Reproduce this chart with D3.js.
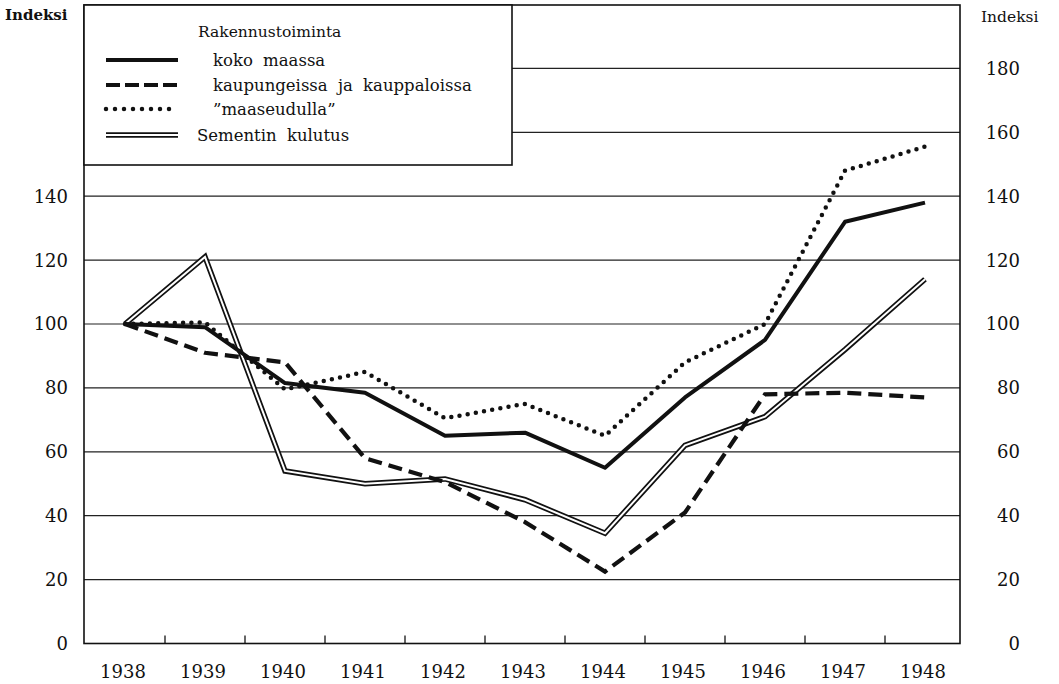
<!DOCTYPE html>
<html>
<head>
<meta charset="utf-8">
<script src="https://cdn.jsdelivr.net/npm/d3@7"></script>
<style>
  body { margin: 0; background: #fff; }
  text { font-family: "DejaVu Serif", serif; fill: #111; }
</style>
</head>
<body>
<svg width="1059" height="684"></svg>
<script>
var svg = d3.select("svg");

// the data
var years = [1938, 1939, 1940, 1941, 1942, 1943, 1944, 1945, 1946, 1947, 1948];
var kokoMaassa = [100, 99, 81.5, 78.5, 65, 66, 55, 77, 95, 132, 138];
var kaupungeissa = [100, 91, 88, 58, 50.5, 38, 22.5, 41, 78, 78.5, 77];
var maaseudulla = [100, 100.5, 79.5, 85, 70.5, 75, 65, 88, 100, 148, 155.5];
var sementti = [100, 121, 54, 50, 51.5, 45, 34.5, 62, 71, 92, 114];
var leftTicks = [0, 20, 40, 60, 80, 100, 120, 140];
var rightTicks = [0, 20, 40, 60, 80, 100, 120, 140, 160, 180];
var gridTicks = [20, 40, 60, 80, 100, 120, 140, 160, 180];

var legendLabels = ["koko maassa", "kaupungeissa ja kauppaloissa", "\u201dmaaseudulla\u201d", "Sementin kulutus"];

// plot frame
var plotLeft = 84, plotRight = 960, plotTop = 5, plotBottom = 643.5;

var x = d3.scaleLinear().domain([1938, 1948]).range([125, 925]);
var y = d3.scaleLinear().domain([0, 200]).range([plotBottom, plotBottom - 200 * 3.195]);

//////////// GRID & FRAME ////////////

svg.append("g").selectAll("line")
    .data(gridTicks)
    .enter().append("line")
    .attr("x1", plotLeft).attr("x2", plotRight)
    .attr("y1", function(d) { return y(d); })
    .attr("y2", function(d) { return y(d); })
    .attr("stroke", "#222")
    .attr("stroke-width", 1.2);

svg.append("rect")
    .attr("x", plotLeft).attr("y", plotTop)
    .attr("width", plotRight - plotLeft).attr("height", plotBottom - plotTop)
    .attr("fill", "none")
    .attr("stroke", "#111")
    .attr("stroke-width", 1.6);

// small ticks between the years
svg.append("g").selectAll("line")
    .data(years.slice(0, -1))
    .enter().append("line")
    .attr("x1", function(d) { return x(d + 0.5); })
    .attr("x2", function(d) { return x(d + 0.5); })
    .attr("y1", plotBottom).attr("y2", plotBottom - 8)
    .attr("stroke", "#111")
    .attr("stroke-width", 1.3);

//////////// AXIS LABELS ////////////

svg.append("g").selectAll("text")
    .data(leftTicks)
    .enter().append("text")
    .attr("x", 68)
    .attr("y", function(d) { return y(d); })
    .attr("dy", "0.36em")
    .attr("text-anchor", "end")
    .attr("font-size", 18)
    .text(function(d) { return d; });

svg.append("g").selectAll("text")
    .data(rightTicks)
    .enter().append("text")
    .attr("x", 1020)
    .attr("y", function(d) { return y(d); })
    .attr("dy", "0.36em")
    .attr("text-anchor", "end")
    .attr("font-size", 18)
    .text(function(d) { return d; });

svg.append("g").selectAll("text")
    .data(years)
    .enter().append("text")
    .attr("x", function(d) { return x(d) - 2; })
    .attr("y", 678)
    .attr("text-anchor", "middle")
    .attr("font-size", 18)
    .text(function(d) { return d; });

svg.append("text")
    .attr("x", 5).attr("y", 20)
    .attr("font-size", 15)
    .attr("font-weight", "bold")
    .text("Indeksi");

svg.append("text")
    .attr("x", 981).attr("y", 22)
    .attr("font-size", 15.5)
    .text("Indeksi");

//////////// SERIES ////////////

var line = d3.line()
    .x(function(d, i) { return x(years[i]); })
    .y(function(d) { return y(d); });

var lines = svg.append("g").attr("fill", "none");

// double line for cement
lines.append("path")
    .attr("d", line(sementti))
    .attr("stroke", "#111")
    .attr("stroke-width", 5.5)
    .attr("stroke-linejoin", "miter");
lines.append("path")
    .attr("d", line(sementti))
    .attr("stroke", "#fff")
    .attr("stroke-width", 2)
    .attr("stroke-linejoin", "miter");

lines.append("path")
    .attr("d", line(kaupungeissa))
    .attr("stroke", "#111")
    .attr("stroke-width", 4.2)
    .attr("stroke-dasharray", "14,7");

lines.append("path")
    .attr("d", line(maaseudulla))
    .attr("stroke", "#111")
    .attr("stroke-width", 4.5)
    .attr("stroke-linecap", "round")
    .attr("stroke-dasharray", "0,8.3");

lines.append("path")
    .attr("d", line(kokoMaassa))
    .attr("stroke", "#111")
    .attr("stroke-width", 4)
    .attr("stroke-linejoin", "round");

//////////// LEGEND ////////////

var legend = svg.append("g");

legend.append("rect")
    .attr("x", plotLeft).attr("y", plotTop)
    .attr("width", 512 - plotLeft).attr("height", 165 - plotTop)
    .attr("fill", "#fff")
    .attr("stroke", "#111")
    .attr("stroke-width", 1.6);

legend.append("text")
    .attr("x", 198).attr("y", 37)
    .attr("font-size", 15.5)
    .text("Rakennustoiminta");

var legendY = [60, 85, 109, 135];
var legendTextX = [213, 213, 213, 197];
var legendStyles = [
  { w: 4, dash: null, cap: "butt" },
  { w: 4.2, dash: "14,5", cap: "butt" },
  { w: 4.5, dash: "0,9", cap: "round" },
  { w: 5.5, dash: null, cap: "butt", dbl: true }
];

legendLabels.forEach(function(label, i) {
  var s = legendStyles[i];
  legend.append("line")
      .attr("x1", 106).attr("x2", 178)
      .attr("y1", legendY[i]).attr("y2", legendY[i])
      .attr("stroke", "#111")
      .attr("stroke-width", s.w)
      .attr("stroke-linecap", s.cap)
      .attr("stroke-dasharray", s.dash);
  if (s.dbl) {
    legend.append("line")
        .attr("x1", 106).attr("x2", 178)
        .attr("y1", legendY[i]).attr("y2", legendY[i])
        .attr("stroke", "#fff")
        .attr("stroke-width", 2);
  }
  legend.append("text")
      .attr("x", legendTextX[i])
      .attr("y", legendY[i] + 6)
      .attr("font-size", 16.5)
      .attr("word-spacing", 5)
      .text(label);
});
</script>
</body>
</html>
